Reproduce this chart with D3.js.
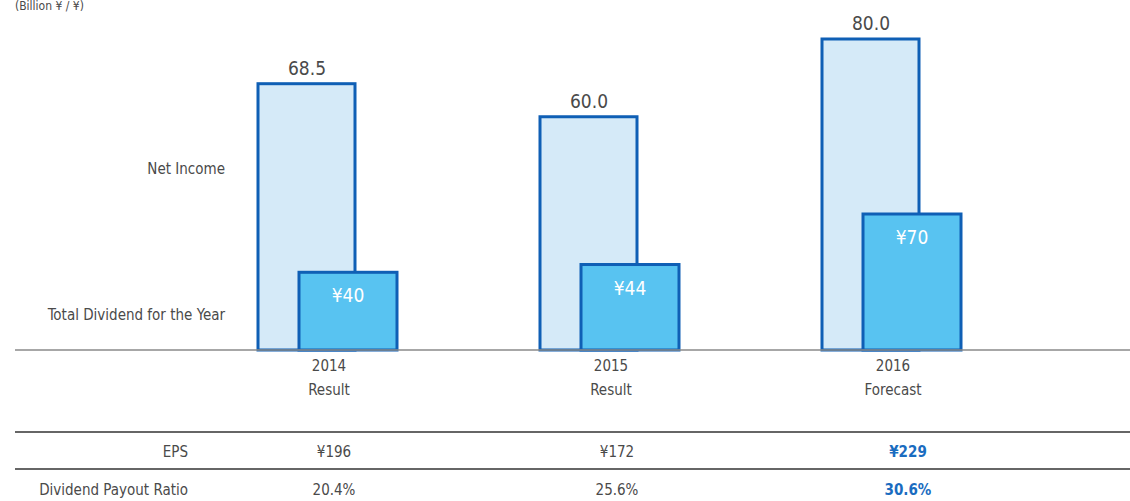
<!DOCTYPE html>
<html>
<head>
<meta charset="utf-8">
<script src="https://d3js.org/d3.v7.min.js"></script>
<style>
  body { margin: 0; background: #fff; }
  svg text { font-family: "Liberation Sans Narrow", "DejaVu Sans Condensed", Roboto, sans-serif; fill: #4a4a4a; }
</style>
</head>
<body>
<svg id="chart" width="1130" height="501"></svg>
<script>
// data
const years = ["2014", "2015", "2016"];
const periods = ["Result", "Result", "Forecast"];
const netIncome = [68.5, 60.0, 80.0];
const dividend = [40, 44, 70];
const eps = [196, 172, 229];
const payout = [20.4, 25.6, 30.6];

const svg = d3.select("#chart");
const baseY = 350;

// scales
const x = d3.scaleBand().domain(years).range([186, 1032]);
const yNet = d3.scaleLinear().domain([0, 80]).range([baseY, 39]);
const yDiv = d3.scaleLinear().domain([0, 70]).range([baseY, 214]);
const cx = d => x(d) + x.bandwidth() / 2;

const stroke = "#0f5fb5";

// unit label
svg.append("text").attr("x", 15).attr("y", 10)
   .attr("font-size", 12).text("(Billion ¥ / ¥)");

// row labels on the left
svg.append("text").attr("x", 225).attr("y", 174).attr("text-anchor", "end")
   .attr("font-size", 15).text("Net Income");
svg.append("text").attr("x", 225).attr("y", 320).attr("text-anchor", "end")
   .attr("font-size", 15).text("Total Dividend for the Year");

// net income bars
svg.selectAll("rect.net").data(years).join("rect")
   .attr("class", "net")
   .attr("x", d => cx(d) - 69)
   .attr("width", 97)
   .attr("y", (d, i) => yNet(netIncome[i]))
   .attr("height", (d, i) => baseY - yNet(netIncome[i]))
   .attr("fill", "#d5eaf8")
   .attr("stroke", stroke).attr("stroke-width", 3);

svg.selectAll("text.net").data(years).join("text")
   .attr("class", "net")
   .attr("x", d => cx(d) - 20)
   .attr("y", (d, i) => yNet(netIncome[i]) - 9)
   .attr("text-anchor", "middle").attr("font-size", 19)
   .text((d, i) => netIncome[i].toFixed(1));

// dividend bars
svg.selectAll("rect.div").data(years).join("rect")
   .attr("class", "div")
   .attr("x", d => cx(d) - 28)
   .attr("width", 98)
   .attr("y", (d, i) => yDiv(dividend[i]))
   .attr("height", (d, i) => baseY - yDiv(dividend[i]))
   .attr("fill", "#58c3f1")
   .attr("stroke", stroke).attr("stroke-width", 3);

svg.selectAll("text.div").data(years).join("text")
   .attr("class", "div")
   .attr("x", d => cx(d) + 21)
   .attr("y", (d, i) => yDiv(dividend[i]) + 30)
   .attr("text-anchor", "middle").attr("font-size", 19)
   .style("fill", "#fff")
   .text((d, i) => "¥" + dividend[i]);

// baseline
svg.append("line").attr("x1", 15).attr("x2", 1130).attr("y1", baseY).attr("y2", baseY)
   .attr("stroke", "#8a8a8a").attr("stroke-width", 1.5);

// category labels
svg.selectAll("text.year").data(years).join("text")
   .attr("class", "year")
   .attr("x", d => cx(d) + 2).attr("y", 371)
   .attr("text-anchor", "middle").attr("font-size", 15)
   .text(d => d);
svg.selectAll("text.period").data(years).join("text")
   .attr("class", "period")
   .attr("x", d => cx(d) + 2).attr("y", 395)
   .attr("text-anchor", "middle").attr("font-size", 15)
   .text((d, i) => periods[i]);

// table
[432, 469].forEach(y => {
  svg.append("line").attr("x1", 15).attr("x2", 1130).attr("y1", y).attr("y2", y)
     .attr("stroke", "#333").attr("stroke-width", 1.5);
});

const rows = [
  { label: "EPS", y: 457, vals: eps.map(v => "¥" + v) },
  { label: "Dividend Payout Ratio", y: 495, vals: payout.map(v => v.toFixed(1) + "%") }
];

rows.forEach(r => {
  svg.append("text").attr("x", 188).attr("y", r.y).attr("text-anchor", "end")
     .attr("font-size", 15).text(r.label);
  svg.selectAll(null).data(years).join("text")
     .attr("x", (d, i) => cx(d) + [7, 8, 17][i])
     .attr("y", r.y)
     .attr("text-anchor", "middle").attr("font-size", 15)
     .attr("font-weight", (d, i) => i === 2 ? "bold" : null)
     .style("fill", (d, i) => i === 2 ? "#1a6cc0" : null)
     .text((d, i) => r.vals[i]);
});
</script>
</body>
</html>
